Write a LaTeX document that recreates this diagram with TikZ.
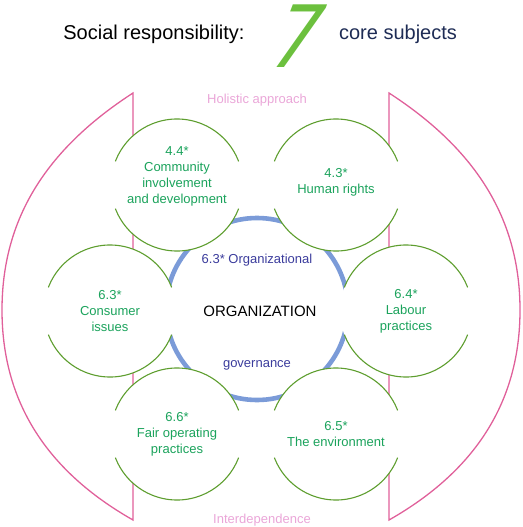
\documentclass[tikz,border=0pt]{standalone}
\usepackage{fontspec}
\setmainfont{Liberation Sans}
\newfontfamily\sevenfont{DejaVu Sans}
\usetikzlibrary{positioning}
\definecolor{subjGreen}{HTML}{5E9E2F}
\definecolor{textGreen}{HTML}{1BA35C}
\definecolor{sevenGreen}{HTML}{6CC03E}
\definecolor{linePink}{HTML}{E0609A}
\definecolor{textPink}{HTML}{EAA6D8}
\definecolor{ringBlue}{HTML}{7B9BD8}
\definecolor{govPurple}{HTML}{3B3C9C}
\definecolor{titleNavy}{HTML}{1E2C55}

\begin{document}
\begin{tikzpicture}[x=1pt,y=-1pt,
  subject/.style={circle,fill=white,minimum size=132pt,inner sep=0pt,align=center,text=textGreen,font=\fontsize{13}{16}\selectfont},
  rim/.style={draw=subjGreen,line width=1.1pt},
  pinkline/.style={draw=linePink,line width=1.3pt},
  ring/.style={draw=ringBlue,line width=4.6pt},
  label/.style={inner sep=0pt,font=\fontsize{13}{16}\selectfont},
  title/.style={inner sep=0pt,font=\fontsize{20}{24}\selectfont}
]
\useasboundingbox (0,0) rectangle (522,527);
% headline
\node[title,anchor=base] (social) at (154,40) {Social responsibility:};
\node[inner sep=0pt,anchor=base,xslant=0.38,xscale=0.85,text=sevenGreen,font=\sevenfont\fontsize{86}{86}\selectfont] (seven) at (287,67) {7};
\node[title,anchor=base,text=titleNavy] (core) at (398,40) {core subjects};
% frame and ring
\draw[pinkline] (133,93) -- (133,520) .. controls (45,470) and (2,400) .. (2,310) .. controls (2,220) and (45,150) .. cycle;
\draw[pinkline] (389,93) -- (389,520) .. controls (477,470) and (520,400) .. (520,310) .. controls (520,220) and (477,150) .. cycle;
\draw[ring] (257,309) circle[radius=91];
% core subjects
\node[subject,text depth=20pt] (community) at (177,185) {4.4*\\Community\\involvement\\and development};
\node[subject,text depth=8pt] (rights) at (336,185) {4.3*\\Human rights};
\node[subject] (consumer) at (110,311) {6.3*\\Consumer\\issues};
\node[subject] (labour) at (406,311) {6.4*\\Labour\\practices};
\node[subject] (fair) at (177,434) {6.6*\\Fair operating\\practices};
\node[subject] (environment) at (336,434) {6.5*\\The environment};
\foreach \s in {community,rights,consumer,labour,fair,environment} {
  \draw[rim] (\s.center) ++(21:66) arc[start angle=21,end angle=159,radius=66];
  \draw[rim] (\s.center) ++(201:66) arc[start angle=201,end angle=339,radius=66];
}
% labels
\node[label,text=textPink] (holistic) at (257,100) {Holistic approach};
\node[label,text=textPink] (interdep) at (262,520) {Interdependence};
\node[label,text=govPurple] (orgtop) at (257,260) {6.3* Organizational};
\node[label,font=\fontsize{15}{18}\selectfont] (organization) at (260,311) {ORGANIZATION};
\node[label,text=govPurple] (gov) at (257,365) {governance};
\end{tikzpicture}
\end{document}
